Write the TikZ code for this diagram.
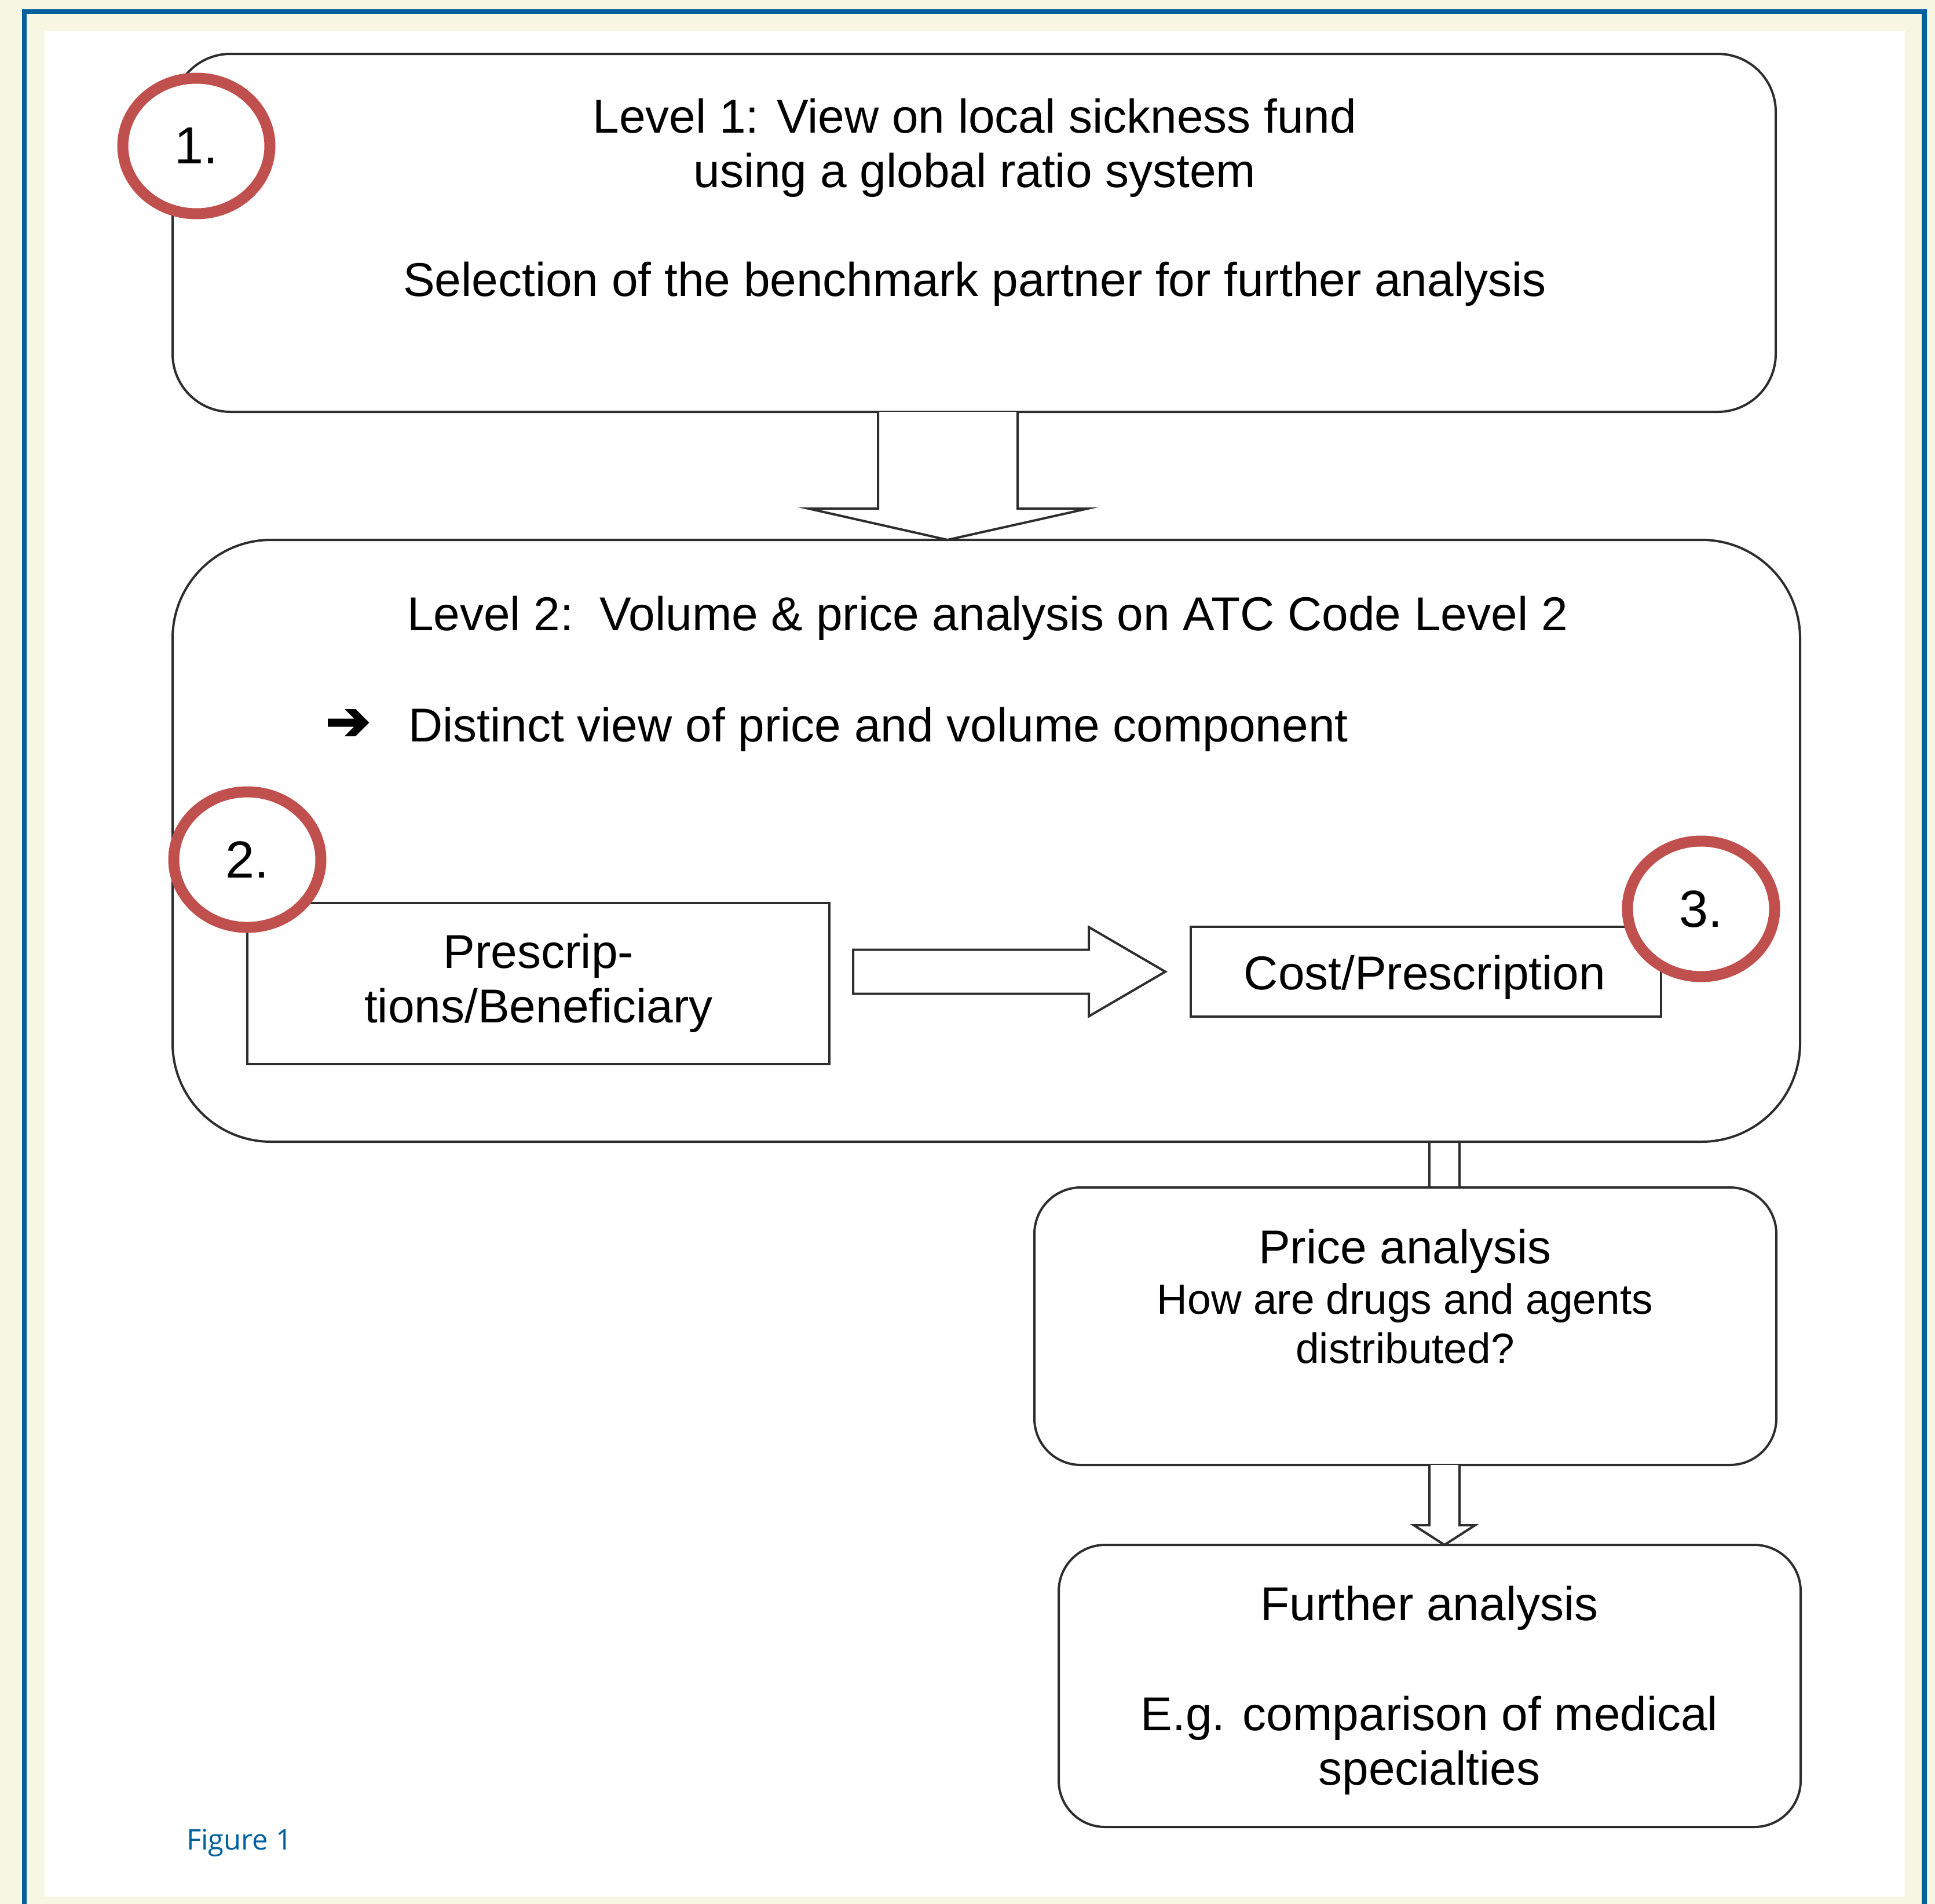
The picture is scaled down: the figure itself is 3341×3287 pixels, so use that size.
\documentclass[tikz,border=0pt]{standalone}
\usepackage{fontspec}
\setmainfont{Liberation Sans}
\newfontfamily\figfont{Open Sans}
\newfontfamily\symbfont[FakeBold=3.5]{DejaVu Sans}
\usetikzlibrary{shapes.geometric,calc}
\definecolor{cream}{RGB}{247,246,226}
\definecolor{frameblue}{RGB}{0,96,158}
\definecolor{ringred}{RGB}{192,80,77}
\definecolor{boxline}{RGB}{45,45,45}
\begin{document}
\begin{tikzpicture}[x=1pt,y=-1pt,
  roundbox/.style={draw=boxline,line width=4pt,fill=white,rectangle,inner sep=0pt,outer sep=0pt},
  plainbox/.style={draw=boxline,line width=4pt,fill=white,rectangle,inner sep=0pt,outer sep=0pt},
  badge/.style={ellipse,draw=ringred,line width=19pt,fill=white,minimum width=254pt,minimum height=234pt,inner sep=0pt,font=\fontsize{90}{100}\selectfont},
  lbl/.style={anchor=base,inner sep=0pt,font=\fontsize{82}{94}\selectfont},
  smalllbl/.style={anchor=base,inner sep=0pt,font=\fontsize{73}{85}\selectfont},
  blockarrow/.style={draw=boxline,line width=4pt,line join=miter,fill=white},
  connline/.style={draw=boxline,line width=4pt}
]
\useasboundingbox (0,0) rectangle (3341,3287);
% background and frame
\fill[cream] (0,0) rectangle (3341,3287);
\fill[frameblue] (38,16) rectangle (46,3287);
\fill[frameblue] (38,16) rectangle (3327,24);
\fill[frameblue] (3318,16) rectangle (3327,3287);
\fill[white] (76,53) rectangle (3289,3274);

% main boxes
\node[roundbox,rounded corners=100pt,minimum width=2768pt,minimum height=618pt] (b1) at (1682,402) {};
\node[roundbox,rounded corners=170pt,minimum width=2810pt,minimum height=1039pt] (b2) at (1703,1451.5) {};
\node[plainbox,minimum width=1005pt,minimum height=278pt] (pres) at (929.5,1698) {};
\node[plainbox,minimum width=812pt,minimum height=155pt] (cost) at (2462,1677.5) {};
\node[roundbox,rounded corners=80pt,minimum width=1281pt,minimum height=479pt] (price) at (2426.5,2289.5) {};
\node[roundbox,rounded corners=80pt,minimum width=1281pt,minimum height=487pt] (further) at (2468.5,2910.5) {};

% block arrow level 1 -> level 2
\coordinate (ax) at (1636,0);
\draw[blockarrow] ($(ax|-b1.south)+(-120,0)$) -- ($(ax|-b2.north)+(-120,-54)$) -- ($(ax|-b2.north)+(-240,-54)$) -- (ax|-b2.north) -- ($(ax|-b2.north)+(242,-54)$) -- ($(ax|-b2.north)+(121,-54)$) -- ($(ax|-b1.south)+(121,0)$);

% horizontal block arrow
\coordinate (hs) at ($(pres.east|-cost.west)+(41,0)$);
\coordinate (ht) at ($(cost.west)+(-44,0)$);
\draw[blockarrow] ($(hs)+(0,-38)$) -- ($(ht)+(-132,-38)$) -- ($(ht)+(-132,-77)$) -- (ht) -- ($(ht)+(-132,77)$) -- ($(ht)+(-132,38)$) -- ($(hs)+(0,38)$) -- cycle;

% connector level 2 -> price analysis
\coordinate (vx) at (2494,0);
\draw[connline] ($(vx|-b2.south)+(-26,0)$) -- ($(vx|-price.north)+(-26,0)$);
\draw[connline] ($(vx|-b2.south)+(26,0)$) -- ($(vx|-price.north)+(26,0)$);

% block arrow price -> further
\draw[blockarrow] ($(vx|-price.south)+(-26,0)$) -- ($(vx|-further.north)+(-26,-34)$) -- ($(vx|-further.north)+(-53,-34)$) -- (vx|-further.north) -- ($(vx|-further.north)+(53,-34)$) -- ($(vx|-further.north)+(26,-34)$) -- ($(vx|-price.south)+(26,0)$);

% texts
\node[lbl] (t1a) at (1683,229) {Level 1: View on local sickness fund};
\node[lbl] (t1b) at (1683,323) {using a global ratio system};
\node[lbl] (t1c) at (1683,511) {Selection of the benchmark partner for further analysis};
\node[lbl] (t2a) at (1705,1088) {Level 2:\ \ Volume \& price analysis on ATC Code Level 2};
\node[inner sep=0pt,font=\symbfont\fontsize{92}{100}\selectfont] (arr) at (601,1251) {➔};
\node[lbl,anchor=base west] (t2b) at (705,1280) {Distinct view of price and volume component};
\node[lbl] (tp1) at (930,1671) {Prescrip-};
\node[lbl] (tp2) at (930,1765) {tions/Beneficiary};
\node[lbl] (tc) at (2460,1708) {Cost/Prescription};
\node[lbl] (tpa) at (2426,2181) {Price analysis};
\node[smalllbl] (tpb) at (2426,2268) {How are drugs and agents};
\node[smalllbl] (tpc) at (2426,2353) {distributed?};
\node[lbl] (tfa) at (2468,2797) {Further analysis};
\node[lbl] (tfb) at (2468,2987) {E.g. comparison of medical};
\node[lbl] (tfc) at (2468,3081) {specialties};
\node[anchor=base west,inner sep=0pt,text=frameblue,font=\figfont\fontsize{49}{56}\selectfont] (fig) at (322,3193) {Figure 1};

% numbered rings
\node[badge] (c1) at (339,252) {1.};
\node[badge] (c2) at (427,1484) {2.};
\node[badge] (c3) at (2937,1569) {3.};
\end{tikzpicture}
\end{document}
